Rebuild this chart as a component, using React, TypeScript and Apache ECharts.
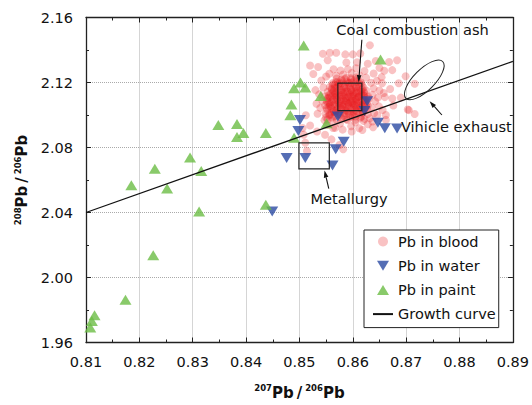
import React, { useEffect, useRef } from 'react';
import * as echarts from 'echarts';

const FONT = '"DejaVu Sans", Verdana, sans-serif';

const X_MIN = 0.81;
const X_MAX = 0.89;
const X_STEP = 0.01;
const Y_MIN = 1.96;
const Y_MAX = 2.16;
const Y_STEP = 0.04;

const seriesNames = ['Pb in blood', 'Pb in water', 'Pb in paint', 'Growth curve'];

const bloodPoints: number[][] = [
  [0.8556,2.0998],[0.8565,2.1021],[0.8574,2.1007],[0.8585,2.1030],[0.8597,2.1004],[0.8606,2.1025],[0.8618,2.1013],[0.8627,2.1035],
  [0.8559,2.1047],[0.8570,2.1064],[0.8581,2.1052],[0.8592,2.1069],[0.8602,2.1045],[0.8613,2.1060],[0.8623,2.1074],[0.8552,2.1079],
  [0.8563,2.1095],[0.8575,2.1083],[0.8587,2.1104],[0.8598,2.1088],[0.8609,2.1107],[0.8620,2.1092],[0.8630,2.1101],[0.8555,2.1121],
  [0.8567,2.1134],[0.8579,2.1125],[0.8590,2.1143],[0.8601,2.1129],[0.8612,2.1148],[0.8622,2.1133],[0.8560,2.1162],[0.8572,2.1175],
  [0.8584,2.1167],[0.8595,2.1180],[0.8606,2.1172],[0.8617,2.1185],[0.8568,2.1201],[0.8580,2.1208],[0.8592,2.1197],[0.8603,2.1214],
  [0.8614,2.1205],[0.8561,2.1015],[0.8571,2.1038],[0.8583,2.0995],[0.8593,2.1017],[0.8604,2.0991],[0.8615,2.1042],[0.8625,2.1057],
  [0.8557,2.1068],[0.8568,2.1111],[0.8578,2.1098],[0.8589,2.1077],[0.8600,2.1115],[0.8610,2.1080],[0.8621,2.1118],[0.8553,2.1104],
  [0.8564,2.1149],[0.8575,2.1157],[0.8586,2.1044],[0.8597,2.1152],[0.8607,2.1137],[0.8618,2.1159],[0.8627,2.1080],[0.8551,2.1042],
  [0.8562,2.1185],[0.8573,2.1191],[0.8585,2.1222],[0.8596,2.1228],[0.8608,2.1223],[0.8577,2.1069],[0.8591,2.1113],[0.8603,2.1063],
  [0.8582,2.1139],[0.8594,2.1131],[0.8605,2.1098],[0.8616,2.1127],[0.8570,2.1118],[0.8587,2.1088],[0.8599,2.1074],[0.8611,2.1114],
  [0.8553,2.0972],[0.8561,2.0985],[0.8570,2.0969],[0.8579,2.0981],[0.8588,2.0974],[0.8596,2.0987],[0.8605,2.0971],[0.8614,2.0983],[0.8622,2.0976],
  [0.8549,2.1008],[0.8558,2.1002],[0.8567,2.1013],[0.8576,2.1001],[0.8584,2.1012],[0.8593,2.1003],[0.8602,2.1016],[0.8611,2.1004],[0.8619,2.1015],[0.8628,2.1006],
  [0.8552,2.1031],[0.8560,2.1040],[0.8569,2.1028],[0.8578,2.1039],[0.8587,2.1027],[0.8596,2.1041],[0.8604,2.1033],[0.8613,2.1044],[0.8622,2.1030],
  [0.8548,2.1060],[0.8557,2.1055],[0.8566,2.1068],[0.8575,2.1057],[0.8584,2.1066],[0.8593,2.1054],[0.8601,2.1067],[0.8610,2.1056],[0.8619,2.1065],[0.8628,2.1059],
  [0.8551,2.1088],[0.8560,2.1081],[0.8569,2.1092],[0.8578,2.1084],[0.8587,2.1093],[0.8596,2.1082],[0.8605,2.1091],[0.8614,2.1085],[0.8623,2.1094],
  [0.8548,2.1115],[0.8557,2.1110],[0.8566,2.1121],[0.8575,2.1112],[0.8584,2.1120],[0.8593,2.1109],[0.8602,2.1119],[0.8611,2.1111],[0.8620,2.1122],[0.8629,2.1113],
  [0.8553,2.1143],[0.8562,2.1137],[0.8571,2.1146],[0.8580,2.1139],[0.8589,2.1148],[0.8598,2.1140],[0.8607,2.1150],[0.8616,2.1142],[0.8625,2.1151],
  [0.8557,2.1172],[0.8566,2.1166],[0.8575,2.1178],[0.8584,2.1170],[0.8593,2.1177],[0.8602,2.1168],[0.8611,2.1176],[0.8620,2.1169],
  [0.8562,2.1196],[0.8571,2.1203],[0.8580,2.1195],[0.8589,2.1206],[0.8598,2.1199],[0.8607,2.1204],[0.8616,2.1197],
  [0.8570,2.1225],[0.8579,2.1218],[0.8588,2.1229],[0.8597,2.1219],[0.8606,2.1231],
  [0.8556,2.1005],[0.8564,2.1026],[0.8573,2.1019],[0.8581,2.1036],[0.8590,2.1024],[0.8599,2.1037],[0.8608,2.1021],[0.8617,2.1034],
  [0.8554,2.1050],[0.8563,2.1061],[0.8572,2.1048],[0.8580,2.1062],[0.8589,2.1051],[0.8598,2.1063],[0.8607,2.1049],[0.8616,2.1062],[0.8624,2.1048],
  [0.8556,2.1076],[0.8565,2.1087],[0.8574,2.1073],[0.8583,2.1089],[0.8592,2.1075],[0.8601,2.1087],[0.8609,2.1072],[0.8618,2.1086],
  [0.8553,2.1101],[0.8562,2.1113],[0.8571,2.1100],[0.8580,2.1114],[0.8589,2.1101],[0.8598,2.1112],[0.8607,2.1102],[0.8616,2.1115],[0.8625,2.1104],
  [0.8558,2.1128],[0.8567,2.1140],[0.8576,2.1127],[0.8585,2.1141],[0.8594,2.1128],[0.8603,2.1141],[0.8612,2.1130],[0.8621,2.1141],
  [0.8561,2.1157],[0.8570,2.1168],[0.8579,2.1154],[0.8588,2.1166],[0.8597,2.1156],[0.8606,2.1167],[0.8615,2.1155],
  [0.8566,2.1188],[0.8575,2.1199],[0.8585,2.1186],[0.8594,2.1198],[0.8603,2.1188],[0.8612,2.1196],
  [0.8550,2.0985],[0.8566,2.0992],[0.8583,2.0985],[0.8600,2.0994],[0.8616,2.0990],
  [0.8539,2.1044],[0.8543,2.1088],[0.8537,2.1127],[0.8545,2.1169],[0.8541,2.1212],[0.8547,2.0968],[0.8550,2.1237],[0.8556,2.1254],
  [0.8569,2.1241],[0.8582,2.1249],[0.8598,2.1258],[0.8612,2.1245],[0.8625,2.1230],[0.8634,2.1198],[0.8639,2.1164],[0.8637,2.1125],
  [0.8642,2.1084],[0.8635,2.1048],[0.8640,2.1011],[0.8632,2.0980],[0.8620,2.0964],[0.8605,2.0955],[0.8590,2.0969],[0.8576,2.0948],
  [0.8562,2.0965],[0.8552,2.0939],[0.8567,2.0921],[0.8581,2.0910],[0.8597,2.0931],[0.8612,2.0918],[0.8628,2.0943],[0.8646,2.0999],
  [0.8649,2.1053],[0.8647,2.1107],[0.8650,2.1151],[0.8645,2.1210],[0.8532,2.1069],[0.8530,2.1153],[0.8534,2.1008],[0.8656,2.1031],
  [0.8658,2.1135],[0.8654,2.1233],[0.8591,2.1281],[0.8606,2.1288],[0.8577,2.1274],[0.8622,2.1271],[0.8564,2.1282],[0.8639,2.1255],
  [0.8632,2.1429],[0.8544,2.1377],[0.8557,2.1383],[0.8569,2.1383],[0.8586,2.1373],[0.8600,2.1373],[0.8614,2.1379],[0.8553,2.1337],
  [0.8588,2.1323],[0.8643,2.1332],[0.8668,2.1326],[0.8683,2.1337],[0.8659,2.1272],[0.8674,2.1276],[0.8526,2.1252],[0.8699,2.1238],
  [0.8716,2.1192],[0.8690,2.1107],[0.8703,2.1034],[0.8716,2.1006],[0.8662,2.1000],[0.8508,2.0879],[0.8511,2.0829],[0.8514,2.0779],
  [0.8582,2.0789],[0.8637,2.0960],[0.8662,2.0970],[0.8563,2.0920],[0.8674,2.1101],[0.8705,2.1030],[0.8520,2.1305],[0.8535,2.1295],
  [0.8608,2.1325],[0.8628,2.1315],[0.8655,2.1195],[0.8670,2.1160],[0.8660,2.1110],[0.8676,2.1058],[0.8520,2.0935],[0.8533,2.0898],
  [0.8548,2.0878],[0.8598,2.0898],[0.8618,2.0908],[0.8638,2.0925],[0.8506,2.0920],[0.8512,2.0998],[0.8686,2.1195],[0.8650,2.1290],
  [0.8560,2.0850],[0.8575,2.0815]
];

const waterPoints: number[][] = [
  [0.8501,2.0969],[0.8498,2.0902],[0.8572,2.0991],[0.8627,2.1085],[0.8622,2.1024],[0.8647,2.0953],[0.8660,2.0919],
  [0.8683,2.0917],[0.8583,2.0836],[0.8568,2.0790],[0.8562,2.0690],[0.8511,2.0735],[0.8476,2.0735],[0.8449,2.0406]
];

const paintPoints: number[][] = [
  [0.8508,2.1427],[0.8652,2.1341],[0.8502,2.1200],[0.8490,2.1164],[0.8511,2.1170],[0.8540,2.1117],[0.8485,2.1065],
  [0.8483,2.0999],[0.8551,2.0950],[0.8348,2.0938],[0.8383,2.0944],[0.8383,2.0865],[0.8395,2.0890],[0.8437,2.0890],
  [0.8490,2.0860],[0.8295,2.0739],[0.8229,2.0669],[0.8316,2.0655],[0.8185,2.0568],[0.8252,2.0548],[0.8312,2.0406],
  [0.8437,2.0447],[0.8226,2.0137],[0.8174,1.9863],[0.8116,1.9768],[0.8111,1.9732],[0.8108,1.9693]
];

const growthCurve: number[][] = [[0.81, 2.0400], [0.89, 2.1330]];

const sourceBoxes: number[][] = [
  [0.8572, 2.1027, 0.8617, 2.1196],
  [0.8499, 2.0668, 0.8556, 2.0829]
];
const exhaustEllipse: number[][] = [[0.8734, 2.1216]];
const annotationTexts = ['Coal combustion ash', 'Vihicle exhaust', 'Metallurgy'];
const annotationPos: number[][] = [[0.8712, 2.1524], [0.8794, 2.0930], [0.8593, 2.0487]];
const arrows: number[][] = [
  [0.8617, 2.1463, 0.8611, 2.1202],
  [0.8767, 2.1000, 0.8744, 2.1085],
  [0.8555, 2.0547, 0.8547, 2.0658]
];

const BLOOD_COLOR = 'rgba(232,30,32,0.34)';
const WATER_COLOR = '#2b4aa3';
const PAINT_COLOR = '#6cbd45';

const fmt2 = (v: number) => v.toFixed(2);

const tickStyle = {
  axisLine: { show: true, onZero: false, lineStyle: { color: '#222', width: 1.3 } },
  axisTick: { show: true, inside: true, length: 5, lineStyle: { color: '#222', width: 1 } },
  minorTick: { show: true, splitNumber: 2, length: 3, lineStyle: { color: '#222', width: 1 } },
};

const nameRich = {
  b: { fontFamily: FONT, fontWeight: 'bold', fontSize: 15, lineHeight: 18, color: '#111' },
  m: { fontFamily: FONT, fontWeight: 'bold', fontSize: 15, lineHeight: 18, color: '#111', padding: [0, 3, 0, 3] },
  s: { fontFamily: FONT, fontWeight: 'bold', fontSize: 8.5, lineHeight: 9, verticalAlign: 'top', color: '#111' },
};

export default function App() {
  const ref = useRef<HTMLDivElement>(null);
  useEffect(() => {
    if (!ref.current) return;
    const chart = echarts.init(ref.current, undefined, { renderer: 'svg' });
    const option: any = {
      animation: false,
      backgroundColor: '#fff',
      grid: { left: 86, right: 13.5, top: 17.5, bottom: 56.5, containLabel: false },
      legend: {
        data: [
          { name: seriesNames[0], icon: 'circle' },
          { name: seriesNames[1], icon: 'path://M0,0 L12,0 L6,10 Z' },
          { name: seriesNames[2], icon: 'path://M6,0 L12,10 L0,10 Z' },
          { name: seriesNames[3] },
        ],
        orient: 'vertical',
        left: 364,
        top: 230,
        padding: [4, 3, 6, 8],
        itemGap: 9.2,
        itemWidth: 20,
        itemHeight: 10,
        symbolKeepAspect: true,
        borderColor: '#222',
        borderWidth: 1,
        backgroundColor: '#fff',
        selectedMode: false,
        textStyle: { fontFamily: FONT, fontSize: 14.5, color: '#111' },
      },
      xAxis: [
        {
          type: 'value', min: X_MIN, max: X_MAX, interval: X_STEP, position: 'bottom',
          ...tickStyle,
          axisLabel: { formatter: fmt2, margin: 12, fontFamily: FONT, fontSize: 14.5, color: '#111', showMinLabel: true, showMaxLabel: true },
          splitLine: { show: true, lineStyle: { type: 'dotted', color: '#aaa', width: 1 } },
          name: '{s|207}{b|Pb}{m|/}{s|206}{b|Pb}',
          nameLocation: 'middle',
          nameGap: 41,
          nameTextStyle: { rich: nameRich },
        },
        {
          type: 'value', min: X_MIN, max: X_MAX, interval: X_STEP, position: 'top',
          ...tickStyle,
          axisLabel: { show: false },
          splitLine: { show: false },
        },
      ],
      yAxis: [
        {
          type: 'value', min: Y_MIN, max: Y_MAX, interval: Y_STEP, position: 'left',
          ...tickStyle,
          axisLabel: { formatter: fmt2, margin: 13, fontFamily: FONT, fontSize: 14.5, color: '#111', showMinLabel: true, showMaxLabel: true },
          splitLine: { show: true, lineStyle: { type: 'dotted', color: '#aaa', width: 1 } },
          name: '{s|208}{b|Pb}{m|/}{s|206}{b|Pb}',
          nameLocation: 'middle',
          nameGap: 55,
          nameTextStyle: { rich: nameRich },
        },
        {
          type: 'value', min: Y_MIN, max: Y_MAX, interval: Y_STEP, position: 'right',
          ...tickStyle,
          axisLabel: { show: false },
          splitLine: { show: false },
        },
      ],
      series: [
        {
          name: seriesNames[0], type: 'scatter', data: bloodPoints, symbol: 'circle', symbolSize: 8,
          itemStyle: { color: BLOOD_COLOR }, z: 2,
        },
        {
          name: seriesNames[1], type: 'scatter', data: waterPoints, symbol: 'triangle', symbolRotate: 180,
          symbolSize: [12, 10], itemStyle: { color: WATER_COLOR }, z: 3,
        },
        {
          name: seriesNames[2], type: 'scatter', data: paintPoints, symbol: 'triangle',
          symbolSize: [12, 10], itemStyle: { color: PAINT_COLOR }, z: 3,
        },
        {
          name: seriesNames[3], type: 'line', data: growthCurve, symbol: 'none', showSymbol: false,
          itemStyle: { color: 'rgba(0,0,0,0)' },
          lineStyle: { color: '#111', width: 1.3 }, z: 4,
        },
        {
          type: 'custom', data: sourceBoxes, z: 5, silent: true,
          encode: { x: [0, 2], y: [1, 3] },
          renderItem: (params: any, api: any) => {
            const p1 = api.coord([api.value(0), api.value(1)]);
            const p2 = api.coord([api.value(2), api.value(3)]);
            return {
              type: 'rect',
              shape: { x: Math.min(p1[0], p2[0]), y: Math.min(p1[1], p2[1]), width: Math.abs(p2[0] - p1[0]), height: Math.abs(p2[1] - p1[1]) },
              style: { fill: 'none', stroke: '#222', lineWidth: 1.2 },
            };
          },
        },
        {
          type: 'custom', data: exhaustEllipse, z: 5, silent: true,
          renderItem: (params: any, api: any) => {
            const c = api.coord([api.value(0), api.value(1)]);
            return {
              type: 'ellipse',
              x: c[0], y: c[1], rotation: Math.PI / 4,
              shape: { cx: 0, cy: 0, rx: 26, ry: 10.5 },
              style: { fill: 'none', stroke: '#222', lineWidth: 1 },
            };
          },
        },
        {
          type: 'custom', data: arrows, z: 5, silent: true,
          encode: { x: [0, 2], y: [1, 3] },
          renderItem: (params: any, api: any) => {
            const a = api.coord([api.value(0), api.value(1)]);
            const b = api.coord([api.value(2), api.value(3)]);
            const dx = b[0] - a[0];
            const dy = b[1] - a[1];
            const len = Math.sqrt(dx * dx + dy * dy) || 1;
            const ux = dx / len, uy = dy / len;
            const hl = 7, hw = 2.3;
            const bx = b[0] - ux * hl, by = b[1] - uy * hl;
            return {
              type: 'group',
              children: [
                { type: 'line', shape: { x1: a[0], y1: a[1], x2: bx, y2: by }, style: { stroke: '#111', lineWidth: 1.1 } },
                {
                  type: 'polygon',
                  shape: { points: [[b[0], b[1]], [bx - uy * hw, by + ux * hw], [bx + uy * hw, by - ux * hw]] },
                  style: { fill: '#111' },
                },
              ],
            };
          },
        },
        {
          type: 'custom', data: annotationPos, z: 6, silent: true,
          renderItem: (params: any, api: any) => {
            const p = api.coord([api.value(0), api.value(1)]);
            return {
              type: 'text', x: p[0], y: p[1],
              style: {
                text: annotationTexts[params.dataIndex],
                fontFamily: FONT, fontSize: 14.6, fill: '#111',
                align: 'center', verticalAlign: 'middle',
                textAlign: 'center', textVerticalAlign: 'middle',
              },
            };
          },
        },
      ],
    };
    chart.setOption(option);
    return () => chart.dispose();
  }, []);
  return <div ref={ref} style={{ position: 'absolute', left: 0, top: 0, width: 532, height: 405 }} />;
}
